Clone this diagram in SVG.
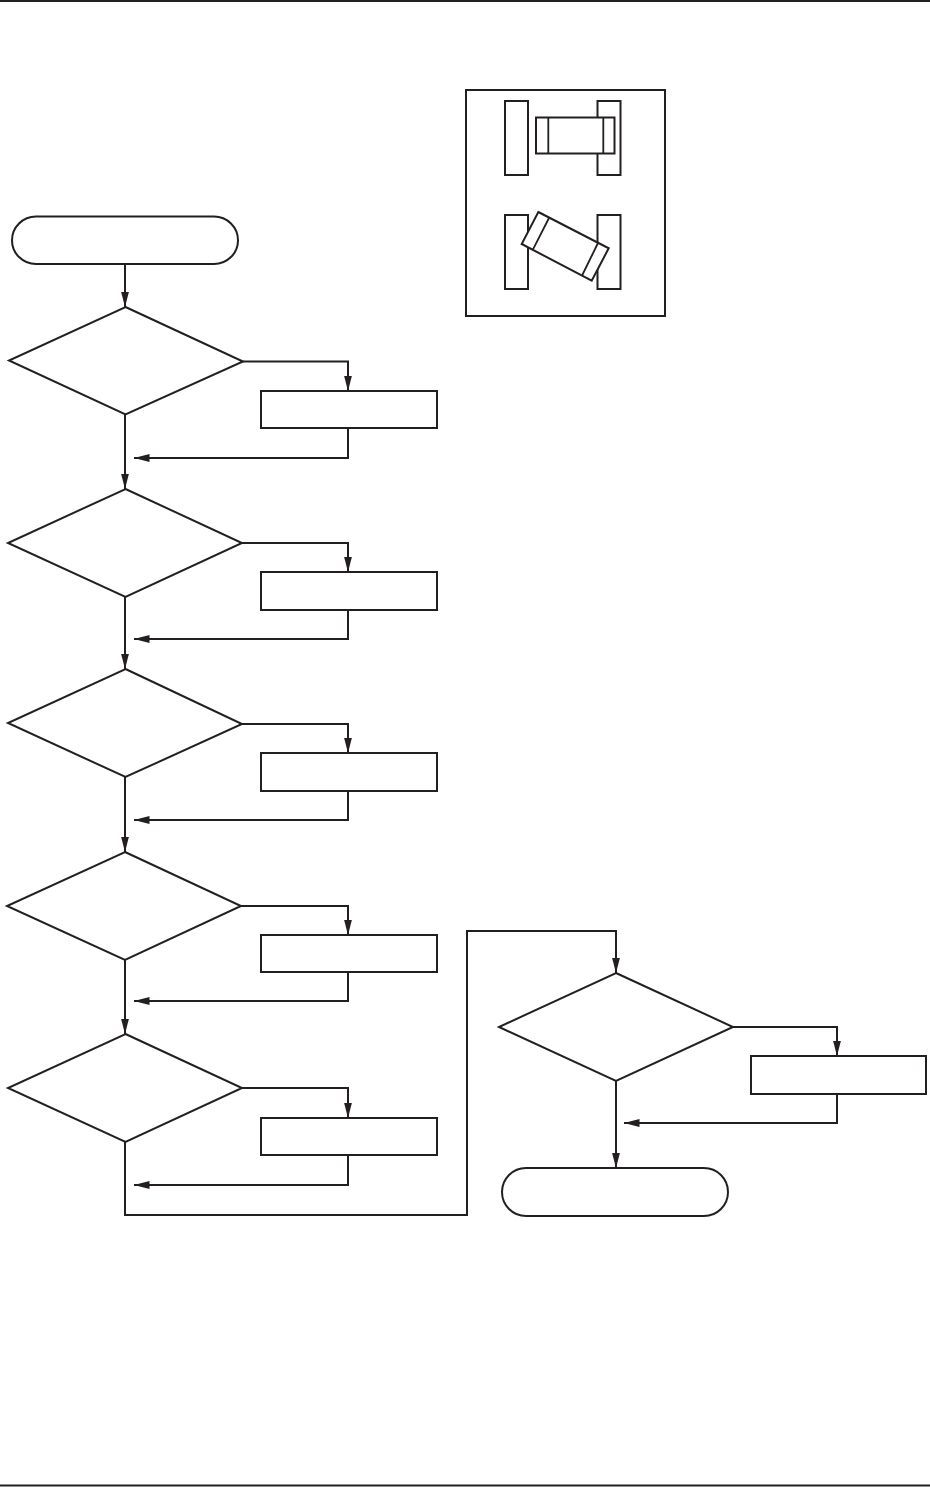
<svg xmlns="http://www.w3.org/2000/svg" width="930" height="1487" viewBox="0 0 930 1487">
<style>
.s{fill:#fff;stroke:#231f20;stroke-width:2;stroke-linejoin:miter}
.c{fill:none;stroke:#231f20;stroke-width:2;marker-end:url(#a)}
.r{fill:none;stroke:#231f20;stroke-width:1.8}
</style>
<defs>
<marker id="a" markerUnits="userSpaceOnUse" markerWidth="16" markerHeight="10" refX="15.500" refY="4.500" orient="auto"><path d="M0 0.500L15.500 4.500L0 8.500Z" fill="#231f20"/></marker>
</defs>
<rect width="930" height="1487" fill="#fff"/>
<g id="page-rules"><rect x="0" y="0" width="930" height="2" fill="#231f20"/><rect x="0" y="1484.500" width="930" height="2" fill="#231f20"/></g>
<g id="inset">
<rect class="s" x="466" y="90" width="199" height="226"/>
<rect class="s" x="505" y="101" width="23" height="74"/>
<rect class="s" x="597.500" y="101" width="23" height="74"/>
<rect class="s" x="536" y="117.500" width="78.500" height="36"/>
<path class="r" d="M548.300 117.500V153.500M603.300 117.500V153.500"/>
<rect class="s" x="505" y="215" width="23" height="74"/>
<rect class="s" x="597.500" y="215" width="23" height="74"/>
<path class="s" d="M538.300 212L608.700 248.300L591.700 280.700L521.700 244Z"/>
<path class="r" d="M549 218L533 249.300M598 243L582.300 275"/>
</g>
<g id="connectors">
<path class="c" d="M125 264V307"/>
<path class="c" d="M243 361.500H348V391"/>
<path class="c" d="M125 415V489"/>
<path class="c" d="M348 428V458H134"/>
<path class="c" d="M242 543H348V572"/>
<path class="c" d="M125 597V669"/>
<path class="c" d="M348 610V639H134"/>
<path class="c" d="M242 724H348V753"/>
<path class="c" d="M125 777V852"/>
<path class="c" d="M348 791V820H134"/>
<path class="c" d="M241 906H348V935"/>
<path class="c" d="M125 960V1034"/>
<path class="c" d="M348 972V1001H134"/>
<path class="c" d="M242 1088H348V1118"/>
<path class="c" d="M348 1155V1185H134"/>
<path class="c" d="M125 1142V1215H467V931H616V973"/>
<path class="c" d="M733 1027H837V1056"/>
<path class="c" d="M837 1094V1123H624"/>
<path class="c" d="M616 1081V1168"/>
</g>
<g id="start"><rect class="s" x="12" y="216.500" width="226" height="47.500" rx="24" ry="23.750"/></g>
<g id="d1"><path class="s" d="M125.500 307L243 361.500L125.500 414.500L9 360.500Z"/></g>
<g id="b1"><rect class="s" x="261" y="391" width="176" height="37"/></g>
<g id="d2"><path class="s" d="M125.500 489L242 543L125.500 597L8 543Z"/></g>
<g id="b2"><rect class="s" x="261" y="572" width="176" height="38"/></g>
<g id="d3"><path class="s" d="M125.500 669L242 724L125.500 777L8 723Z"/></g>
<g id="b3"><rect class="s" x="261" y="753" width="176" height="38"/></g>
<g id="d4"><path class="s" d="M125 852L241 906L125 960L7 906Z"/></g>
<g id="b4"><rect class="s" x="261" y="935" width="176" height="37"/></g>
<g id="d5"><path class="s" d="M125.500 1034L242 1088L125.500 1142L8 1088Z"/></g>
<g id="b5"><rect class="s" x="261" y="1118" width="176" height="37"/></g>
<g id="d6"><path class="s" d="M616 973L733 1027L616 1081L499 1027Z"/></g>
<g id="b6"><rect class="s" x="751" y="1056" width="175" height="38"/></g>
<g id="end"><rect class="s" x="502" y="1168" width="226" height="48" rx="24" ry="24"/></g>
</svg>
